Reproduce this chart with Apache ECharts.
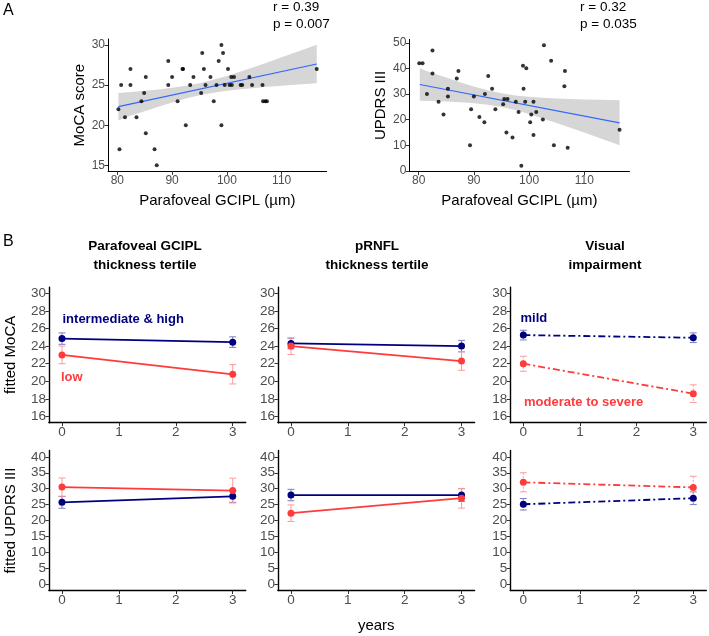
<!DOCTYPE html>
<html><head><meta charset="utf-8">
<script src="https://cdn.jsdelivr.net/npm/echarts@6/dist/echarts.min.js"></script>
<style>html,body{margin:0;padding:0;background:#fff}#c{width:709px;height:636px}</style>
</head><body><div id="c"></div>
<script>
// ---------- Panel A data ----------
const mocaGcipl = [80.2,80.4,80.7,81.4,82.4,82.4,83.5,84.4,84.9,85.2,85.2,86.8,87.2,89.3,89.3,90.0,91.0,91.9,92.0,92.5,93.3,93.9,95.3,95.5,95.8,96.1,97.0,97.6,98.1,98.5,99.0,99.0,99.3,99.6,100.2,100.5,100.8,100.9,101.3,102.5,102.8,104.1,104.6,106.5,106.6,107.0,107.3,116.4];
const mocaScore = [22,17,25,21,27,25,21,23,24,19,26,17,15,28,25,26,23,27,27,20,25,26,24,29,27,25,26,23,25,28,30,20,29,25,27,25,26,25,26,25,25,26,25,25,23,23,23,27];
const mocaFitX = [80.2, 116.4];
const mocaFitY = [22.31, 27.63];
const mocaBandX = [80.2,82.5,85,87.5,90,92.5,95,97.5,100,102.5,105,107.5,110,113,116.4];
const mocaBandLo = [20.59,21.20,21.74,22.31,22.84,23.33,23.74,24.05,24.29,24.48,24.65,24.79,24.92,25.06,25.23];
const mocaBandHi = [24.03,24.15,24.30,24.46,24.66,24.92,25.24,25.66,26.15,26.69,27.27,27.86,28.46,29.20,30.03];

const updrsGcipl = [80.1,80.7,81.5,82.5,82.5,83.6,84.5,85.3,85.3,86.9,87.2,89.3,89.5,90.0,91.0,91.9,92.0,92.6,93.3,93.9,95.3,95.5,95.9,96.1,97.0,97.6,98.1,98.6,98.9,99.0,99.3,99.5,100.2,100.4,100.8,100.8,101.3,102.5,102.7,104.0,104.5,106.4,106.5,107.0,116.4];
const updrsScore = [42,42,30,47,38,27,22,32,29,36,39,10,24,29,21,19,30,37,32,24,26,28,15,28,13,27,23,2,41,32,27,40,19,22,27,14,23,20,49,43,10,33,39,9,16];
const updrsFitX = [80.2, 116.4];
const updrsFitY = [33.7, 18.75];
const updrsBandX = [80.2,82.5,85,87.5,90,92.5,95,97.5,100,102.5,105,107.5,110,113,116.4];
const updrsBandLo = [27.4,27.3,27.04,26.80,26.36,25.75,24.89,23.70,22.16,20.45,18.67,16.80,14.91,12.60,9.95];
const updrsBandHi = [40.0,38.1,36.40,34.60,32.94,31.46,30.29,29.45,28.88,28.50,28.25,28.05,27.87,27.70,27.55];

const aXTicks = [80,90,100,110];
const mocaTicks = [15,20,25,30];
const updrsTicks = [0,10,20,30,40,50];
const statsMoca = ['r = 0.39','p = 0.007'];
const statsUpdrs = ['r = 0.32','p = 0.035'];

// ---------- Panel B data ----------
const years = [0, 3];
const bXTicks = [0,1,2,3];
const bMocaTicks = [16,18,20,22,24,26,28,30];
const bUpdrsTicks = [0,5,10,15,20,25,30,35,40];
const headers = [['Parafoveal GCIPL','thickness tertile'],['pRNFL','thickness tertile'],['Visual','impairment']];
const groupNames = [['intermediate & high','low'],['',''],['mild','moderate to severe']];

const gciplHighMoca = [24.85, 24.45], gciplHighMocaErr = [0.65, 0.6];
const gciplLowMoca  = [23.0, 20.8],  gciplLowMocaErr  = [1.0, 1.1];
const prnflHighMoca = [24.3, 24.0],  prnflHighMocaErr = [0.6, 0.65];
const prnflLowMoca  = [24.0, 22.3],  prnflLowMocaErr  = [0.95, 1.05];
const visMildMoca   = [25.25, 24.95], visMildMocaErr  = [0.55, 0.55];
const visSevMoca    = [22.0, 18.6],  visSevMocaErr    = [0.85, 1.0];

const gciplHighUpdrs = [25.7, 27.6], gciplHighUpdrsErr = [1.85, 1.9];
const gciplLowUpdrs  = [30.5, 29.4], gciplLowUpdrsErr  = [2.85, 3.9];
const prnflHighUpdrs = [28.0, 28.0], prnflHighUpdrsErr = [1.8, 2.0];
const prnflLowUpdrs  = [22.3, 27.0], prnflLowUpdrsErr  = [2.6, 3.1];
const visMildUpdrs   = [25.1, 27.0], visMildUpdrsErr   = [1.8, 2.0];
const visSevUpdrs    = [32.0, 30.4], visSevUpdrsErr    = [3.0, 3.5];

// ---------- styling ----------
const FONT = 'Liberation Sans, Arial, sans-serif';
const BLUE = '#00007f', RED = '#ff3b3b';
const BLUE_EB = '#7d7dbf', RED_EB = '#ff9a9a';
const DASHDOT = [7,3,2,3];

const grids = [
  {left:108, top:39, width:218.6, height:132.3},
  {left:409.3, top:39.3, width:220.2, height:132.4},
  {left:48.9, top:287.1, width:196.9, height:135.6},
  {left:277.9, top:287.1, width:196.7, height:135.6},
  {left:510.3, top:287.1, width:196.0, height:135.6},
  {left:48.9, top:450.5, width:196.9, height:140},
  {left:277.9, top:450.5, width:196.7, height:140},
  {left:510.3, top:450.5, width:196.0, height:140}
].map(g => Object.assign({containLabel:false, outerBoundsMode:'none'}, g));

function axis(i, min, max, ticks, fs, extra) {
  return Object.assign({
    type:'value', gridIndex:i, min:min, max:max,
    splitLine:{show:false},
    axisLine:{show:true, onZero:false, lineStyle:{color:'#000', width: i<2 ? 1 : 1.4}},
    axisTick:{show:true, length:3.5, customValues:ticks, lineStyle:{color:'#333', width:1}},
    axisLabel:{customValues:ticks, color:'#4d4d4d', fontSize:fs, fontFamily:FONT, margin:3},
    nameTextStyle:{fontFamily:FONT, fontSize:15, color:'#000'}
  }, extra || {});
}

const xAxes = [
  axis(0, 78.3, 118.2, aXTicks, 12, {name:'Parafoveal GCIPL (µm)', nameLocation:'middle', nameGap:22}),
  axis(1, 78.3, 118.2, aXTicks, 12, {name:'Parafoveal GCIPL (µm)', nameLocation:'middle', nameGap:22}),
];
const yAxes = [
  axis(0, 14.25, 30.75, mocaTicks, 12, {name:'MoCA score', nameLocation:'middle', nameGap:21}),
  axis(1, -0.35, 51.35, updrsTicks, 12, {name:'UPDRS III', nameLocation:'middle', nameGap:21}),
];
for (let k=0;k<6;k++){
  const gi = k+2;
  xAxes.push(axis(gi, -0.23, 3.23, bXTicks, 13.5, gi===6 ? {name:'years', nameLocation:'middle', nameGap:28} : {}));
  const row1 = k<3;
  const extra = {};
  if (gi===2) Object.assign(extra, {name:'fitted MoCA', nameLocation:'middle', nameGap:31});
  if (gi===5) Object.assign(extra, {name:'fitted UPDRS III', nameLocation:'middle', nameGap:31});
  yAxes.push(axis(gi, row1?15.3:-2, row1?30.7:42, row1?bMocaTicks:bUpdrsTicks, 13.5, extra));
}

function bandSeries(i, bx, lo, hi){
  return {type:'custom', xAxisIndex:i, yAxisIndex:i, silent:true, z:1, clip:false,
    data:[[bx[0], lo[0]]],
    renderItem:(p, api)=>{
      const pts=[];
      for (let j=0;j<bx.length;j++) pts.push(api.coord([bx[j], hi[j]]));
      for (let j=bx.length-1;j>=0;j--) pts.push(api.coord([bx[j], lo[j]]));
      return {type:'polygon', shape:{points:pts}, style:{fill:'#d6d6d6'}};
    }};
}
function scatterSeries(i, xs, ys){
  return {type:'scatter', xAxisIndex:i, yAxisIndex:i, symbolSize:4, z:4,
    itemStyle:{color:'#000'}, data: xs.map((x,j)=>[x, ys[j]])};
}
function fitSeries(i, xs, ys){
  return {type:'line', xAxisIndex:i, yAxisIndex:i, symbol:'none', z:3,
    lineStyle:{color:'#3366ff', width:1.2}, data: xs.map((x,j)=>[x, ys[j]])};
}
function errSeries(i, vals, errs, color, dash){
  return {type:'custom', xAxisIndex:i, yAxisIndex:i, z:2, silent:true,
    data: years.map((y,j)=>[y, vals[j], errs[j]]),
    renderItem:(p, api)=>{
      const x=api.value(0), y=api.value(1), e=api.value(2);
      const t=api.coord([x, y+e]), b=api.coord([x, y-e]); const w=3.5;
      return {type:'group', children:[
        {type:'line', shape:{x1:t[0],y1:t[1],x2:b[0],y2:b[1]}, style:{stroke:color, lineWidth:1, lineDash:dash?[2,1.5]:null}},
        {type:'line', shape:{x1:t[0]-w,y1:t[1],x2:t[0]+w,y2:t[1]}, style:{stroke:color, lineWidth:1}},
        {type:'line', shape:{x1:b[0]-w,y1:b[1],x2:b[0]+w,y2:b[1]}, style:{stroke:color, lineWidth:1}}
      ]};
    }};
}
function lineSeries(i, vals, color, dash){
  return {type:'line', xAxisIndex:i, yAxisIndex:i, z:3, symbol:'circle', symbolSize:7,
    itemStyle:{color:color}, lineStyle:{color:color, width:1.8, type: dash?DASHDOT:'solid'},
    data: years.map((y,j)=>[y, vals[j]])};
}

const series = [
  bandSeries(0, mocaBandX, mocaBandLo, mocaBandHi),
  fitSeries(0, mocaFitX, mocaFitY),
  scatterSeries(0, mocaGcipl, mocaScore),
  bandSeries(1, updrsBandX, updrsBandLo, updrsBandHi),
  fitSeries(1, updrsFitX, updrsFitY),
  scatterSeries(1, updrsGcipl, updrsScore),
];
const bPanels = [
  [2, gciplHighMoca, gciplHighMocaErr, gciplLowMoca, gciplLowMocaErr, false],
  [3, prnflHighMoca, prnflHighMocaErr, prnflLowMoca, prnflLowMocaErr, false],
  [4, visMildMoca, visMildMocaErr, visSevMoca, visSevMocaErr, true],
  [5, gciplHighUpdrs, gciplHighUpdrsErr, gciplLowUpdrs, gciplLowUpdrsErr, false],
  [6, prnflHighUpdrs, prnflHighUpdrsErr, prnflLowUpdrs, prnflLowUpdrsErr, false],
  [7, visMildUpdrs, visMildUpdrsErr, visSevUpdrs, visSevUpdrsErr, true],
];
bPanels.forEach(([i, hv, he, lv, le, dash])=>{
  series.push(errSeries(i, hv, he, BLUE_EB, dash));
  series.push(errSeries(i, lv, le, RED_EB, dash));
  series.push(lineSeries(i, hv, BLUE, dash));
  series.push(lineSeries(i, lv, RED, dash));
});

function txt(x, y, s, opt){
  return {type:'text', x:x, y:y, style:Object.assign({text:s, fontFamily:FONT, fontSize:13.5, fill:'#000', textVerticalAlign:'middle'}, opt||{})};
}
const graphics = [
  txt(3, 10.5, 'A', {fontSize:16}),
  txt(3, 242, 'B', {fontSize:16}),
  txt(273, 7, statsMoca[0]), txt(273, 24, statsMoca[1]),
  txt(580, 7, statsUpdrs[0]), txt(580, 24, statsUpdrs[1]),
];
const headerX = [145, 377, 605];
headers.forEach((h, k)=>{
  graphics.push(txt(headerX[k], 246, h[0], {fontWeight:'bold', textAlign:'center', fontSize:13.5}));
  graphics.push(txt(headerX[k], 265, h[1], {fontWeight:'bold', textAlign:'center', fontSize:13.5}));
});
graphics.push(txt(62.5, 319, groupNames[0][0], {fontWeight:'bold', fill:BLUE, fontSize:13}));
graphics.push(txt(61, 377, groupNames[0][1], {fontWeight:'bold', fill:RED, fontSize:13}));
graphics.push(txt(520.5, 318, groupNames[2][0], {fontWeight:'bold', fill:BLUE, fontSize:13}));
graphics.push(txt(524, 402, groupNames[2][1], {fontWeight:'bold', fill:RED, fontSize:13}));

const chart = echarts.init(document.getElementById('c'), null, {renderer:'canvas'});
chart.setOption({
  animation:false, backgroundColor:'#fff',
  grid: grids, xAxis: xAxes, yAxis: yAxes, series: series,
  graphic: graphics
});
</script></body></html>
